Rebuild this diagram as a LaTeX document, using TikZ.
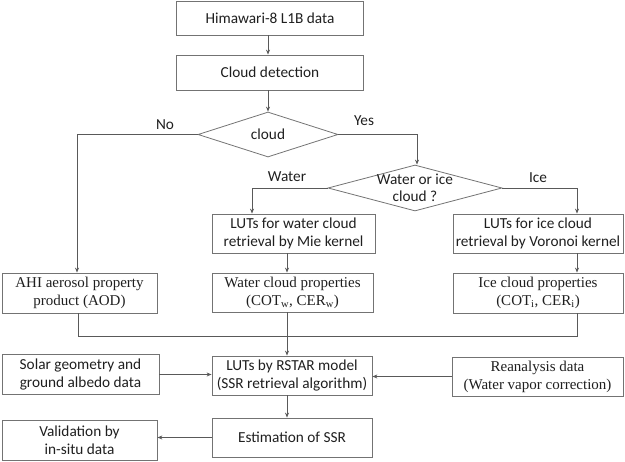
\documentclass[tikz,border=0pt]{standalone}
\usepackage{fontspec}
\setmainfont{Carlito}
\newfontfamily\timesf{Liberation Serif}
\usetikzlibrary{shapes.geometric,arrows.meta}
\begin{document}
\begin{tikzpicture}[x=1pt,y=-1pt,
  every node/.style={text=black!88},
  sbox/.style={draw=black!55,line width=0.8pt,rectangle,inner sep=0pt,align=center,
    font=\fontsize{15.3}{17.5}\selectfont},
  tbox/.style={draw=black!55,line width=0.8pt,rectangle,inner sep=0pt,align=center,
    font=\timesf\fontsize{15}{18}\selectfont},
  dia/.style={draw=black!55,line width=0.8pt,diamond,inner sep=0pt},
  lbl/.style={font=\fontsize{15.3}{17.5}\selectfont,inner sep=0pt,align=center},
  conn/.style={draw=black!65,line width=0.8pt},
  arr/.style={conn,-{Stealth[length=5pt,width=4pt]}}
]
\useasboundingbox (0,0) rectangle (625,462);

% top
\node[sbox,minimum width=187pt,minimum height=34pt] (b1) at (270,18) {Himawari-8 L1B data};
\node[sbox,minimum width=187pt,minimum height=35pt] (b2) at (270,72.5) {Cloud detection};

% diamonds
\node[dia,minimum width=140pt,minimum height=45pt] (d1) at (268,134.5) {};
\node[lbl] (t1) at (d1) {cloud};
\node[dia,minimum width=174pt,minimum height=46pt] (d2) at (415,188) {};
\node[lbl] (t2) at (415,188) {Water or ice\\cloud ?};

% LUT boxes
\node[sbox,minimum width=163pt,minimum height=39pt] (lutw) at (293.5,233.5) {LUTs for water cloud\\retrieval by Mie kernel};
\node[sbox,minimum width=170pt,minimum height=39pt] (luti) at (538,233.5) {LUTs for ice cloud\\retrieval by Voronoi kernel};

% property boxes
\node[tbox,minimum width=155pt,minimum height=40pt] (ahi) at (79.5,293) {AHI aerosol property\\product (AOD)};
\node[tbox,minimum width=161pt,minimum height=39pt] (watp) at (292.5,292.5) {Water cloud properties\\(COT\textsubscript{w}, CER\textsubscript{w})};
\node[tbox,minimum width=170pt,minimum height=40pt] (icep) at (538,293) {Ice cloud properties\\(COT\textsubscript{i}, CER\textsubscript{i})};

% row 4
\node[sbox,minimum width=157pt,minimum height=40pt] (solar) at (80.5,374.5) {Solar geometry and\\ground albedo data};
\node[sbox,minimum width=160pt,minimum height=39pt] (rstar) at (292,375.5) {LUTs by RSTAR model\\(SSR retrieval algorithm)};
\node[tbox,minimum width=171pt,minimum height=39pt] (rean) at (537.5,376.5) {Reanalysis data\\(Water vapor correction)};

% row 5
\node[sbox,minimum width=155pt,minimum height=40pt] (val) at (79.5,440) {Validation by\\in-situ data};
\node[sbox,minimum width=160pt,minimum height=39pt] (est) at (292,437.5) {Estimation of SSR};

% labels
\node[lbl] (lno) at (165,125) {No};
\node[lbl] (lyes) at (364,121) {Yes};
\node[lbl] (lwat) at (287,177) {Water};
\node[lbl] (lice) at (538,178) {Ice};

% connectors
\draw[arr] (b1.south -| d1.north) -- (b2.north -| d1.north);
\draw[arr] (b2.south -| d1.north) -- (d1.north);
\draw[arr] (d1.west) -| ([xshift=-2.5pt]ahi.north);
\draw[arr] (d1.east) -| ([xshift=2pt]d2.north);
\draw[arr] (d2.west) -| ([xshift=-41.5pt]lutw.north);
\draw[arr] (d2.east) -| ([xshift=39pt]luti.north);
\draw[arr] ([xshift=-6.5pt]lutw.south) -- ([xshift=-5.5pt]watp.north);
\draw[arr] ([xshift=39pt]luti.south) -- ([xshift=39pt]icep.north);
\draw[conn] ([xshift=-1.5pt]ahi.south) -- ++(0,23) coordinate (mrg) -| ([xshift=39pt]icep.south);
\draw[arr] ([xshift=-5.5pt]watp.south) -- ([xshift=-5pt]rstar.north);
\draw[arr] (solar.east) -- (solar.east -| rstar.west);
\draw[arr] (rean.west) -- (rean.west -| rstar.east);
\draw[arr] ([xshift=-5pt]rstar.south) -- ([xshift=-5pt]est.north);
\draw[arr] (est.west) -- (est.west -| val.east);
\end{tikzpicture}
\end{document}
